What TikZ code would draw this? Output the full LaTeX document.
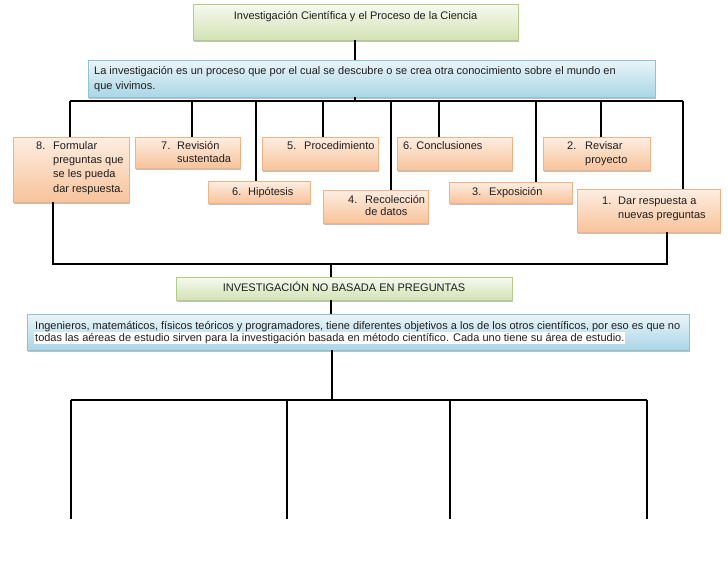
\documentclass[tikz,border=0pt]{standalone}
\usepackage{fontspec}
\setmainfont{Liberation Sans}
\usetikzlibrary{shadows}
\definecolor{txt}{HTML}{1E1E1E}
\definecolor{gtop}{HTML}{F6FAEF}
\definecolor{gbot}{HTML}{D3E2B5}
\definecolor{gbrd}{HTML}{B5CB8C}
\definecolor{otop}{HTML}{FDEEE2}
\definecolor{obot}{HTML}{F8C39B}
\definecolor{obrd}{HTML}{F0B288}
\definecolor{btop}{HTML}{EAF5F9}
\definecolor{bbot}{HTML}{AAD6E5}
\definecolor{bbrd}{HTML}{8CC3D5}
\newcommand\numlbl[2]{\makebox[#1][l]{#2}}
\newcommand\indnt[1]{\hspace*{#1}}
\newcommand\lines[2]{\fontsize{11}{#1}\selectfont\begin{tabular}[t]{@{}l@{}}#2\end{tabular}}
\tikzset{
  boxbase/.style={rectangle, inner sep=0pt, line width=0.6pt,
    drop shadow={shadow xshift=0.8pt, shadow yshift=-2pt, opacity=0.35, fill=black!70}},
  greenbox/.style={boxbase, draw=gbrd, top color=gtop, bottom color=gbot},
  orangebox/.style={boxbase, draw=obrd, top color=otop, bottom color=obot},
  bluebox/.style={boxbase, draw=bbrd, top color=btop, bottom color=bbot},
  txtnode/.style={inner sep=0pt, text=txt, font=\fontsize{11}{13}\selectfont},
  conn/.style={line width=1.1pt, draw=black}
}
\begin{document}
\begin{tikzpicture}[x=1pt,y=-1pt]
\useasboundingbox[fill=white] (0,0) rectangle (728,563);

% boxes
\node[greenbox, minimum width=325pt, minimum height=36pt] (title) at (355.5,22) {};
\node[bluebox, minimum width=567pt, minimum height=37pt] (blue1) at (371.5,78.5) {};
\node[orangebox, minimum width=116pt, minimum height=65pt] (b8) at (71,169.5) {};
\node[orangebox, minimum width=105pt, minimum height=31pt] (b7) at (187.5,152.5) {};
\node[orangebox, minimum width=102pt, minimum height=22pt] (bhip) at (259,192) {};
\node[orangebox, minimum width=116pt, minimum height=33pt] (bproc) at (320,153.5) {};
\node[orangebox, minimum width=105pt, minimum height=33pt] (brec) at (375.5,206.5) {};
\node[orangebox, minimum width=115pt, minimum height=33pt] (bconc) at (454.5,153.5) {};
\node[orangebox, minimum width=107pt, minimum height=33pt] (brev) at (596.5,153.5) {};
\node[orangebox, minimum width=123pt, minimum height=21pt] (bexp) at (510.5,192.5) {};
\node[orangebox, minimum width=143pt, minimum height=43pt] (bdar) at (648.5,210.5) {};
\node[greenbox, minimum width=336pt, minimum height=23pt] (inv) at (344,288.5) {};
\node[bluebox, minimum width=662pt, minimum height=36pt] (blue2) at (358,332) {};

% texts
\node[txtnode, anchor=base] (ttitle) at (355.5,19.5) {Investigación Científica y el Proceso de la Ciencia};
\node[txtnode, anchor=base west] (tblue1) at (94,74.5) {\lines{15.3pt}{La investigación es un proceso que por el cual se descubre o se crea otra conocimiento sobre el mundo en\\que vivimos.}};
\node[txtnode, anchor=base west] (t8) at (36,149) {\lines{14.4pt}{\numlbl{17pt}{8.}Formular\\\indnt{17pt}preguntas que\\\indnt{17pt}se les pueda\\\indnt{17pt}dar respuesta.}};
\node[txtnode, anchor=base west] (t7) at (161,149) {\lines{13.7pt}{\numlbl{16pt}{7.}Revisión\\\indnt{16pt}sustentada}};
\node[txtnode, anchor=base west] (thip) at (232,195) {\numlbl{16pt}{6.}Hipótesis};
\node[txtnode, anchor=base west] (tproc) at (287,149.5) {\numlbl{17pt}{5.}Procedimiento};
\node[txtnode, anchor=base west] (trec) at (348,203.5) {\lines{11.7pt}{\numlbl{17pt}{4.}Recolección\\\indnt{17pt}de datos}};
\node[txtnode, anchor=base west] (tconc) at (403,149.5) {6. Conclusiones};
\node[txtnode, anchor=base west] (trev) at (567,149) {\lines{14pt}{\numlbl{18pt}{2.}Revisar\\\indnt{18pt}proyecto}};
\node[txtnode, anchor=base west] (texp) at (472,195) {\numlbl{17pt}{3.}Exposición};
\node[txtnode, anchor=base west] (tdar) at (602,204) {\lines{14.3pt}{\numlbl{16pt}{1.}Dar respuesta a\\\indnt{16pt}nuevas preguntas}};
\node[txtnode, anchor=base] (tinv) at (344,291) {INVESTIGACIÓN NO BASADA EN PREGUNTAS};
\node[txtnode, anchor=base west] (tb2a) at (35,329) {Ingenieros, matemáticos, físicos teóricos y programadores, tiene diferentes objetivos a los de los otros científicos, por eso es que no};
\node[txtnode, anchor=base west, fill=white, inner sep=1pt] (tb2b) at (34,341) {todas las aéreas de estudio sirven para la investigación basada en método científico. Cada uno tiene su área de estudio.};

% junction coordinates
\coordinate (busL) at (70,101);
\coordinate (busR) at (683,101);
\coordinate (j0) at (355,101);
\coordinate (j7) at (192,101);
\coordinate (jhip) at (256,101);
\coordinate (jproc) at (323,101);
\coordinate (jrec) at (391,101);
\coordinate (jconc) at (439,101);
\coordinate (jexp) at (536,101);
\coordinate (jrev) at (601,101);
\coordinate (k8) at (53,264);
\coordinate (kD) at (667,264);
\coordinate (k0) at (331,264);
\coordinate (m0) at (332,400);
\coordinate (mL) at (71,400);
\coordinate (m2) at (287,400);
\coordinate (m3) at (450,400);
\coordinate (mR) at (647,400);
\coordinate (eL) at (71,519);
\coordinate (e2) at (287,519);
\coordinate (e3) at (450,519);
\coordinate (eR) at (647,519);

% connectors
\draw[conn] (title.south -| j0) -- (blue1.north -| j0);
\draw[conn] (blue1.south -| j0) -- (j0);
\draw[conn] (busL) -- (busR);
\draw[conn] (busL) -- (busL |- b8.north);
\draw[conn] (j7) -- (j7 |- b7.north);
\draw[conn] (jhip) -- (jhip |- bhip.north);
\draw[conn] (jproc) -- (jproc |- bproc.north);
\draw[conn] (jrec) -- (jrec |- brec.north);
\draw[conn] (jconc) -- (jconc |- bconc.north);
\draw[conn] (jexp) -- (jexp |- bexp.north);
\draw[conn] (jrev) -- (jrev |- brev.north);
\draw[conn] (busR) -- (busR |- bdar.north);
\draw[conn] (k8 |- b8.south) -- (k8) -- (kD) -- (kD |- bdar.south);
\draw[conn] (k0) -- (k0 |- inv.north);
\draw[conn] (k0 |- inv.south) -- (k0 |- blue2.north);
\draw[conn] (m0 |- blue2.south) -- (m0);
\draw[conn] (mL) -- (mR);
\draw[conn] (mL) -- (eL);
\draw[conn] (m2) -- (e2);
\draw[conn] (m3) -- (e3);
\draw[conn] (mR) -- (eR);
\end{tikzpicture}
\end{document}
